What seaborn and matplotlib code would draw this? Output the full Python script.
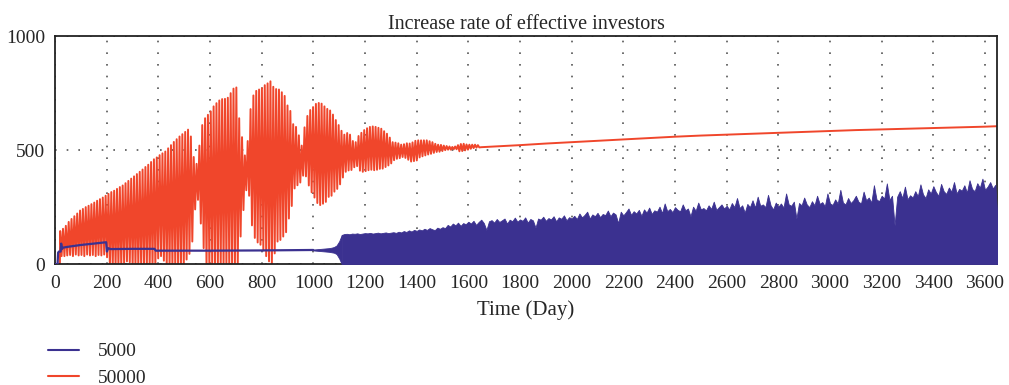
import numpy as np
import pandas as pd
import matplotlib
matplotlib.use("Agg")
import matplotlib.pyplot as plt
from matplotlib.lines import Line2D
import seaborn as sns

# ---- data ----
# series "50000": one peak and one trough per cycle (cycle ~11 days, from day 20)
red_start = 20
red_period = 11
red_peak = [
    145, 155, 168, 185, 198, 210, 222, 235, 242, 250,
    256, 263, 270, 278, 285, 292, 300, 308, 316, 322,
    330, 338, 345, 355, 365, 375, 385, 395, 405, 415,
    426, 436, 448, 460, 468, 478, 486, 494, 508, 522,
    536, 548, 560, 570, 580, 590, 560, 470, 440, 520,
    610, 640, 655, 670, 692, 706, 718, 724, 725, 730,
    750, 770, 775, 640, 557, 477, 540, 680, 740, 760,
    766, 772, 785, 793, 802, 778, 768, 766, 754, 738,
    696, 672, 614, 602, 565, 520, 600, 650, 676, 689,
    703, 707, 704, 692, 681, 674, 656, 632, 610, 585,
    568, 575, 568, 540, 535, 562, 576, 588, 596, 602,
    604, 602, 598, 594, 583, 572, 555, 535, 533, 530,
    524, 526, 530, 529, 534, 541, 543, 543, 543, 543,
    539, 535, 528, 524, 523, 520, 518, 516, 514, 516,
    522, 527, 528, 525, 524, 524, 524, 522,
]
red_trough = [
    35, 35, 38, 40, 35, 42, 38, 40, 35, 42,
    38, 40, 35, 40, 38, 42, 30, -10, -10, -10,
    -10, -10, 5, 12, 8, -10, -10, -10, -10, -10,
    -10, -10, -10, -10, 25, 35, 15, -10, -10, -10,
    -10, -10, -10, -10, 20, 45, 99, 240, 282, 178,
    70, -5, -5, -5, -5, -5, -5, -5, -5, -5,
    -5, -5, -5, 121, 237, 324, 300, 170, 115, 95,
    85, 60, 35, 12, -5, 47, 99, 106, 121, 140,
    200, 255, 332, 346, 358, 388, 385, 345, 315, 292,
    268, 259, 265, 273, 295, 300, 318, 330, 350, 380,
    405, 411, 413, 425, 430, 410, 405, 408, 412, 414,
    412, 414, 418, 419, 426, 433, 442, 456, 462, 465,
    470, 466, 458, 450, 452, 455, 468, 473, 477, 481,
    484, 488, 492, 493, 496, 500, 502, 502, 504, 504,
    495, 496, 499, 502, 506, 509, 511, 512,
]
red_tail_day = [1650, 1700, 1800, 1900, 2000, 2100, 2200, 2300, 2400, 2500, 2600,
                2700, 2800, 2900, 3000, 3100, 3200, 3300, 3400, 3500, 3600, 3646]
red_tail_val = [513, 516, 522, 529, 535, 541, 547, 553, 559, 564, 568,
                572, 576, 580, 584, 588, 591, 594, 597, 600, 603, 605]

# series "5000": single line up to day 1000, widening band to 1110, then dense fill
blue_line_day = [0, 10, 12, 15, 22, 24, 27, 30, 50, 100, 150, 198, 201, 206, 215,
                 300, 385, 390, 600, 800, 1000]
blue_line_val = [0, 0, 50, 55, 55, 90, 66, 72, 76, 84, 90, 96, 55, 70, 66,
                 67, 67, 59, 59, 60, 62]
band_day = [1000, 1010, 1020, 1030, 1040, 1050, 1060, 1070, 1080, 1090, 1100, 1110]
band_lo = [60, 59, 58, 57, 56, 55, 54, 52, 50, 44, 25, 0]
band_hi = [64, 65, 66, 67, 68, 69, 70, 72, 75, 82, 100, 128]
blue_fill_start = 1110
blue_fill_step = 10
blue_fill_top = [
    128, 132, 133, 131, 134, 133, 135, 132, 134, 136,
    135, 137, 134, 136, 138, 135, 137, 139, 136, 138,
    140, 137, 142, 139, 145, 141, 148, 143, 150, 146,
    152, 148, 155, 150, 158, 153, 149, 160, 155, 162,
    158, 172, 165, 178, 170, 182, 168, 180, 175, 186,
    178, 190, 172, 185, 195, 180, 150, 188, 193, 182,
    198, 185, 192, 200, 178, 195, 188, 204, 186, 196,
    190, 205, 182, 198, 192, 160, 200, 195, 208, 190,
    202, 196, 210, 188, 205, 199, 214, 192, 206, 200,
    212, 198, 222, 205, 216, 230, 200, 218, 210, 225,
    206, 220, 215, 235, 210, 226, 218, 180, 230, 214,
    228, 244, 216, 232, 222, 238, 212, 240, 226, 248,
    220, 236, 230, 252, 224, 266, 232, 242, 228, 250,
    238, 232, 262, 236, 244, 210, 252, 234, 270, 240,
    246, 236, 258, 242, 274, 238, 250, 262, 244, 256,
    240, 268, 250, 290, 246, 258, 226, 264, 250, 280,
    248, 296, 256, 262, 250, 304, 258, 240, 270, 252,
    266, 248, 310, 262, 256, 274, 200, 268, 258, 292,
    262, 250, 276, 258, 300, 264, 272, 254, 310, 266,
    260, 284, 266, 326, 270, 262, 290, 268, 280, 300,
    274, 266, 318, 280, 292, 270, 346, 284, 276, 300,
    288, 354, 282, 300, 170, 296, 320, 290, 340, 284,
    302, 292, 320, 298, 350, 306, 290, 328, 310, 342,
    316, 300, 352, 320, 308, 336, 318, 360, 310, 330,
    322, 346, 314, 368, 330, 320, 355, 335, 375, 326,
    340, 360, 332, 348, 165,
]

x_ticks = list(range(0, 3601, 200))
y_ticks = [0, 500, 1000]

BLUE = "#3b3190"
RED = "#f0462b"

# ---- build tables ----
n = len(red_peak)
cyc = red_start + red_period * np.arange(n)
red_x = np.concatenate([[0, red_start - 1],
                        np.column_stack([cyc, cyc + red_period / 2]).ravel(),
                        red_tail_day])
red_y = np.concatenate([[0, 0],
                        np.column_stack([red_peak, red_trough]).ravel(),
                        red_tail_val])
red_df = pd.DataFrame({"day": red_x, "rate": red_y})
blue_df = pd.DataFrame({"day": blue_line_day, "rate": blue_line_val})
fill_day = blue_fill_start + blue_fill_step * np.arange(len(blue_fill_top))
fill_df = pd.DataFrame({"day": fill_day, "rate": blue_fill_top})

# ---- plot ----
sns.set_style("white")
plt.rcParams["font.family"] = ["Liberation Serif", "DejaVu Serif"]

fig = plt.figure(figsize=(10.09, 3.85), dpi=100)
ax = fig.add_axes([0.0545, 0.314, 0.9335, 0.592])

sns.lineplot(data=red_df, x="day", y="rate", color=RED, lw=1.4,
             estimator=None, sort=False, ax=ax, zorder=2)
sns.lineplot(data=blue_df, x="day", y="rate", color=BLUE, lw=1.6,
             estimator=None, sort=False, ax=ax, zorder=3)
ax.fill_between(band_day, band_lo, band_hi, color=BLUE, lw=0.6, zorder=3)
ax.fill_between(fill_df["day"], 0, fill_df["rate"], color=BLUE, lw=0.6, zorder=3)

ax.set_xlim(0, 3646)
ax.set_ylim(0, 1000)
ax.set_xticks(x_ticks)
ax.set_yticks(y_ticks)
ax.tick_params(length=0, labelsize=14, pad=8)
ax.tick_params(axis="y", pad=7)
ax.grid(True, color="#555555", linestyle=(0, (1, 6)), lw=1.2)
ax.set_axisbelow(True)
for s in ax.spines.values():
    s.set_color("#222222")
    s.set_linewidth(1.3)

ax.set_title("Increase rate of effective investors", fontsize=14.5, pad=5)
ax.set_xlabel("Time (Day)", fontsize=15, labelpad=6)
ax.set_ylabel("")

handles = [Line2D([], [], color=BLUE, lw=1.5), Line2D([], [], color=RED, lw=1.5)]
fig.legend(handles, ["5000", "50000"], loc="upper left",
           bbox_to_anchor=(0.03, 0.155), frameon=False, fontsize=14,
           handlelength=1.6, handletextpad=1.0, labelspacing=0.45)

fig.savefig("out.png", dpi=100)
